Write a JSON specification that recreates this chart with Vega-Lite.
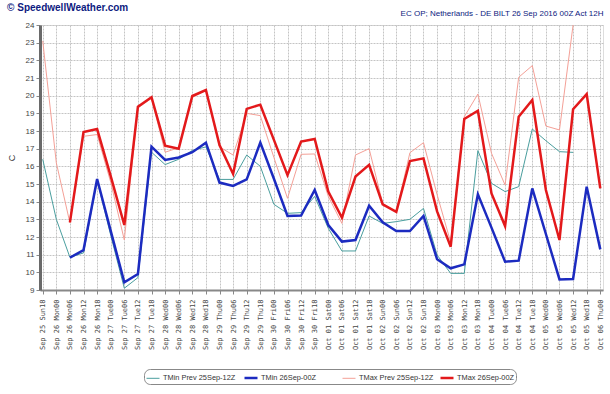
{
  "$schema": "https://vega.github.io/schema/vega-lite/v6.json",
  "width": 563,
  "height": 265,
  "autosize": {"type": "none"},
  "padding": {"left": 40, "top": 25, "right": 7, "bottom": 104},
  "background": "white",
  "title": {"text": "© SpeedwellWeather.com", "anchor": "start", "frame": "bounds", "color": "#0d1a80", "font": "Liberation Sans", "fontSize": 10, "fontWeight": "bold", "offset": -4},
  "data": {"values": [
    {"t": "Sep 25 Sun18", "tminPrev": 16.4, "tmin": null, "tmaxPrev": 23.1, "tmax": null},
    {"t": "Sep 26 Mon00", "tminPrev": 13.0, "tmin": null, "tmaxPrev": 16.2, "tmax": null},
    {"t": "Sep 26 Mon06", "tminPrev": 10.85, "tmin": 10.83, "tmaxPrev": 12.8, "tmax": 12.83},
    {"t": "Sep 26 Mon12", "tminPrev": 11.1, "tmin": 11.26, "tmaxPrev": 17.7, "tmax": 17.94},
    {"t": "Sep 26 Mon18", "tminPrev": 15.2, "tmin": 15.28, "tmaxPrev": 17.8, "tmax": 18.11},
    {"t": "Sep 27 Tue00", "tminPrev": 12.1, "tmin": 12.35, "tmaxPrev": 15.1, "tmax": 15.45},
    {"t": "Sep 27 Tue06", "tminPrev": 9.1, "tmin": 9.43, "tmaxPrev": 11.83, "tmax": 12.68},
    {"t": "Sep 27 Tue12", "tminPrev": 9.7, "tmin": 9.9, "tmaxPrev": 19.3, "tmax": 19.38},
    {"t": "Sep 27 Tue18", "tminPrev": 16.8, "tmin": 17.11, "tmaxPrev": 19.85, "tmax": 19.91},
    {"t": "Sep 28 Wed00", "tminPrev": 16.1, "tmin": 16.36, "tmaxPrev": 16.8, "tmax": 17.17},
    {"t": "Sep 28 Wed06", "tminPrev": 16.4, "tmin": 16.5, "tmaxPrev": 17.05, "tmax": 17.0},
    {"t": "Sep 28 Wed12", "tminPrev": 16.9, "tmin": 16.8, "tmaxPrev": 19.9, "tmax": 19.98},
    {"t": "Sep 28 Wed18", "tminPrev": 17.1, "tmin": 17.34, "tmaxPrev": 20.3, "tmax": 20.32},
    {"t": "Sep 29 Thu00", "tminPrev": 15.26, "tmin": 15.08, "tmaxPrev": 17.1, "tmax": 17.2},
    {"t": "Sep 29 Thu06", "tminPrev": 15.26, "tmin": 14.89, "tmaxPrev": 16.64, "tmax": 15.57},
    {"t": "Sep 29 Thu12", "tminPrev": 16.64, "tmin": 15.26, "tmaxPrev": 19.0, "tmax": 19.25},
    {"t": "Sep 29 Thu18", "tminPrev": 16.0, "tmin": 17.34, "tmaxPrev": 18.87, "tmax": 19.49},
    {"t": "Sep 30 Fri00", "tminPrev": 13.85, "tmin": 15.3, "tmaxPrev": 16.5, "tmax": 17.5},
    {"t": "Sep 30 Fri06", "tminPrev": 13.34, "tmin": 13.19, "tmaxPrev": 14.19, "tmax": 15.5},
    {"t": "Sep 30 Fri12", "tminPrev": 13.38, "tmin": 13.21, "tmaxPrev": 16.68, "tmax": 17.4},
    {"t": "Sep 30 Fri18", "tminPrev": 14.3, "tmin": 14.66, "tmaxPrev": 16.7, "tmax": 17.55},
    {"t": "Oct 01 Sat00", "tminPrev": 12.49, "tmin": 12.68, "tmaxPrev": 14.3, "tmax": 14.57},
    {"t": "Oct 01 Sat06", "tminPrev": 11.21, "tmin": 11.74, "tmaxPrev": 12.77, "tmax": 13.1},
    {"t": "Oct 01 Sat12", "tminPrev": 11.21, "tmin": 11.83, "tmaxPrev": 16.64, "tmax": 15.42},
    {"t": "Oct 01 Sat18", "tminPrev": 13.19, "tmin": 13.77, "tmaxPrev": 17.0, "tmax": 16.08},
    {"t": "Oct 02 Sun00", "tminPrev": 12.77, "tmin": 12.83, "tmaxPrev": 13.9, "tmax": 13.85},
    {"t": "Oct 02 Sun06", "tminPrev": 12.87, "tmin": 12.34, "tmaxPrev": 13.4, "tmax": 13.42},
    {"t": "Oct 02 Sun12", "tminPrev": 13.0, "tmin": 12.34, "tmaxPrev": 16.77, "tmax": 16.3},
    {"t": "Oct 02 Sun18", "tminPrev": 13.62, "tmin": 13.19, "tmaxPrev": 17.34, "tmax": 16.45},
    {"t": "Oct 03 Mon00", "tminPrev": 10.98, "tmin": 10.74, "tmaxPrev": 14.4, "tmax": 13.45},
    {"t": "Oct 03 Mon06", "tminPrev": 9.94, "tmin": 10.23, "tmaxPrev": 11.7, "tmax": 11.45},
    {"t": "Oct 03 Mon12", "tminPrev": 9.94, "tmin": 10.45, "tmaxPrev": 18.81, "tmax": 18.68},
    {"t": "Oct 03 Mon18", "tminPrev": 16.89, "tmin": 14.42, "tmaxPrev": 20.09, "tmax": 19.15},
    {"t": "Oct 04 Tue00", "tminPrev": 15.04, "tmin": 12.53, "tmaxPrev": 16.74, "tmax": 14.47},
    {"t": "Oct 04 Tue06", "tminPrev": 14.57, "tmin": 10.6, "tmaxPrev": 14.94, "tmax": 12.62},
    {"t": "Oct 04 Tue12", "tminPrev": 14.85, "tmin": 10.66, "tmaxPrev": 21.04, "tmax": 18.81},
    {"t": "Oct 04 Tue18", "tminPrev": 18.11, "tmin": 14.75, "tmaxPrev": 21.7, "tmax": 19.75},
    {"t": "Oct 05 Wed00", "tminPrev": 17.45, "tmin": 12.17, "tmaxPrev": 18.28, "tmax": 14.66},
    {"t": "Oct 05 Wed06", "tminPrev": 16.83, "tmin": 9.6, "tmaxPrev": 18.06, "tmax": 11.83},
    {"t": "Oct 05 Wed12", "tminPrev": 16.79, "tmin": 9.62, "tmaxPrev": 24.0, "tmax": 19.23},
    {"t": "Oct 05 Wed18", "tminPrev": null, "tmin": 14.85, "tmaxPrev": null, "tmax": 20.09},
    {"t": "Oct 06 Thu00", "tminPrev": null, "tmin": 11.3, "tmaxPrev": null, "tmax": 14.75}
  ]},
  "transform": [{"fold": ["tminPrev", "tmaxPrev", "tmin", "tmax"], "as": ["series", "v"]}],
  "layer": [
    {
      "mark": {"type": "line", "clip": false},
      "encoding": {
        "x": {"field": "t", "type": "ordinal", "sort": null, "scale": {"type": "point", "padding": 0.2},
          "axis": {"title": null, "labelAngle": -90, "labelFont": "DejaVu Sans Mono", "labelFontSize": 7, "labelColor": "#444",
            "labelPadding": 5, "labelOverlap": false, "labelBound": false, "tickSize": 4, "tickColor": "#888",
            "domainColor": "#888", "domainWidth": 2, "grid": true, "gridColor": "#c4c4c4", "gridDash": [2, 1],
            "labelExpr": "slice(datum.label, 0, 6) + ' ' + slice(datum.label, 6)"}},
        "y": {"field": "v", "type": "quantitative", "scale": {"domain": [9, 24], "nice": false, "zero": false},
          "axis": {"title": "C", "titleFont": "Liberation Sans", "titleFontSize": 9, "titleFontWeight": "normal", "titleColor": "#333", "titlePadding": 9,
            "values": [9, 10, 11, 12, 13, 14, 15, 16, 17, 18, 19, 20, 21, 22, 23, 24],
            "labelFont": "Liberation Sans", "labelFontSize": 8, "labelColor": "#444", "labelPadding": 2, "tickSize": 4, "tickColor": "#888",
            "domainColor": "#6a6a6a", "domainWidth": 3, "grid": true, "gridColor": "#c4c4c4", "gridDash": [2, 1]}},
        "color": {"field": "series", "type": "nominal",
          "scale": {"domain": ["tminPrev", "tmin", "tmaxPrev", "tmax"], "range": ["#4a9e9e", "#1c2bc0", "#f4a097", "#e3191b"]},
          "legend": {"orient": "none", "legendX": 104, "legendY": 344, "direction": "horizontal", "columns": 4, "gridAlign": "all",
            "title": null, "labelFont": "Liberation Sans", "labelFontSize": 7.4, "labelColor": "#333", "symbolType": "stroke", "symbolSize": 169,
            "columnPadding": 1, "labelOffset": 2, "strokeColor": "#888", "cornerRadius": 6, "padding": 1,
            "labelExpr": "datum.label == 'tminPrev' ? 'TMin Prev 25Sep-12Z' : datum.label == 'tmin' ? 'TMin 26Sep-00Z' : datum.label == 'tmaxPrev' ? 'TMax Prev 25Sep-12Z' : 'TMax 26Sep-00Z'"}},
        "strokeWidth": {"field": "series", "type": "nominal",
          "scale": {"type": "ordinal", "domain": ["tminPrev", "tmin", "tmaxPrev", "tmax"], "range": [1, 2.5, 1, 2.5]},
          "legend": {"orient": "none", "legendX": 104, "legendY": 344, "direction": "horizontal", "columns": 4, "gridAlign": "all",
            "title": null, "labelFont": "Liberation Sans", "labelFontSize": 7.4, "labelColor": "#333", "symbolType": "stroke", "symbolSize": 169,
            "columnPadding": 1, "labelOffset": 2, "strokeColor": "#888", "cornerRadius": 6, "padding": 1,
            "labelExpr": "datum.label == 'tminPrev' ? 'TMin Prev 25Sep-12Z' : datum.label == 'tmin' ? 'TMin 26Sep-00Z' : datum.label == 'tmaxPrev' ? 'TMax Prev 25Sep-12Z' : 'TMax 26Sep-00Z'"}}
      }
    },
    {
      "mark": {"type": "rule", "opacity": 0},
      "encoding": {
        "x": {"field": "t", "type": "ordinal", "sort": null,
          "axis": {"orient": "top", "title": "EC OP; Netherlands - DE BILT 26 Sep 2016 00Z Act 12H", "titleAnchor": "end", "titleFont": "Liberation Sans",
            "titleFontSize": 8, "titleFontWeight": "normal", "titleColor": "#0d1a80", "titlePadding": 8,
            "labels": false, "ticks": false, "domain": false, "grid": false}}
      }
    }
  ],
  "resolve": {"axis": {"x": "independent"}}
}
